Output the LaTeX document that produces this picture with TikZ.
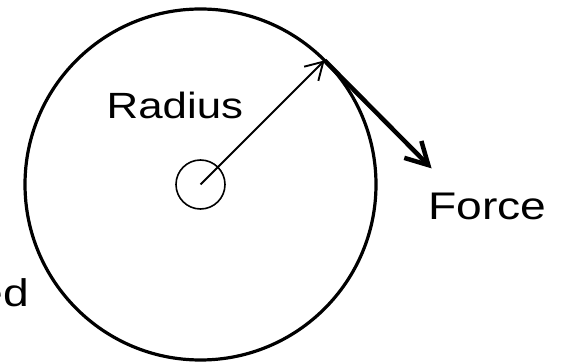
\documentclass[tikz,border=0pt]{standalone}
\usepackage{fontspec}
\setmainfont{Liberation Sans}
\usetikzlibrary{positioning,calc,arrows.meta}
\newcommand{\widetext}[1]{\scalebox{1.2}[1]{#1}}
\tikzset{
  rim circle/.style={
    circle, draw, line width=3.2pt,
    inner sep=0pt, outer sep=0pt,
    minimum size=351pt,
  },
  hub circle/.style={
    circle, draw, line width=1.6pt,
    inner sep=0pt, outer sep=0pt,
    minimum size=49pt,
  },
  radius arrow/.style={line width=1.9pt, -{Straight Barb[length=17pt,width=20pt]}},
  force arrow/.style={line width=4.5pt, -{Straight Barb[length=22pt,width=24pt]}},
  big label/.style={inner sep=0pt},
}

\begin{document}
\begin{tikzpicture}[x=1pt, y=-1pt]
\useasboundingbox (0,0) rectangle (562,363);

%% wheel and hub
\node[rim circle] (wheel) at (200.5, 184.5) {};
\node[hub circle] (hub) at (wheel.center) {};
\coordinate (tip) at ($(wheel.45)+(107,108)$);

%% arrows
\draw[radius arrow] (hub.center) -- (wheel.45);
\draw[force arrow] (wheel.45) -- (tip);

%% labels
\node[big label, anchor=base west, font=\fontsize{36.5}{40}\selectfont]
  (radiuslabel) at (106.5, 118.3) {\widetext{Radius}};
\node[big label, anchor=base west, font=\fontsize{38.5}{42}\selectfont]
  (forcelabel) at (428, 219.3) {\widetext{Force}};
\node[big label, anchor=base east, font=\fontsize{38.5}{42}\selectfont]
  (edlabel) at (29, 306) {\widetext{ed}};

\end{tikzpicture}
\end{document}
